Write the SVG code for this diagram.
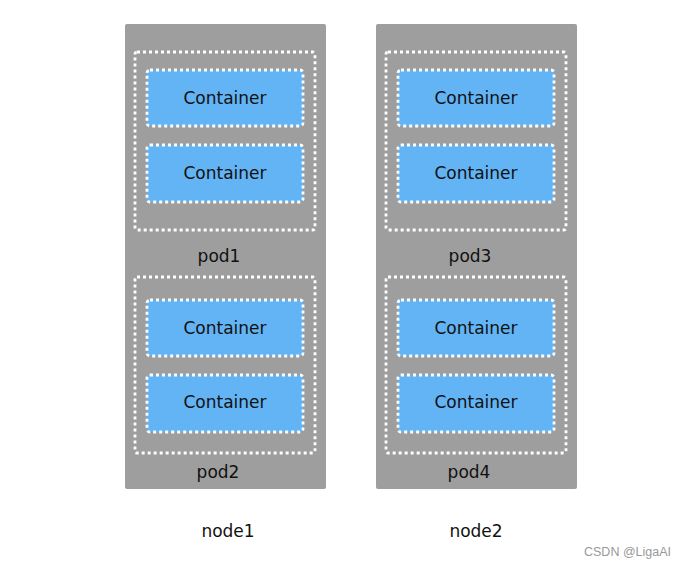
<svg xmlns="http://www.w3.org/2000/svg" width="689" height="568" viewBox="0 0 689 568">
<style>
.node{fill:#9e9e9e}
.pod{fill:none;stroke:#fff;stroke-width:2.8;stroke-dasharray:3 3}
.ctr{fill:#63b4f5;stroke:#fff;stroke-width:2.8;stroke-dasharray:3 3}
.t{font-family:"Comic Sans MS","DejaVu Sans","Noto Sans",sans-serif;font-size:17px;fill:#111;text-anchor:middle}
.w{font-family:"Liberation Sans",Arial,sans-serif;font-size:12.5px;fill:#999}
</style>
<rect width="689" height="568" fill="#fff"/>
<g id="node1">
<rect class="node" x="125" y="24" width="201" height="465" rx="2"/>
<text class="t" x="228" y="537">node1</text>
</g>
<g id="node2">
<rect class="node" x="376" y="24" width="201" height="465" rx="2"/>
<text class="t" x="476" y="537">node2</text>
</g>
<g id="pod1">
<rect class="pod" x="135" y="52" width="180" height="178" rx="2"/>
<text class="t" x="219" y="262">pod1</text>
</g>
<g id="pod2">
<rect class="pod" x="135" y="277" width="180" height="176" rx="2"/>
<text class="t" x="218" y="478">pod2</text>
</g>
<g id="pod3">
<rect class="pod" x="386" y="52" width="180" height="178" rx="2"/>
<text class="t" x="470" y="262">pod3</text>
</g>
<g id="pod4">
<rect class="pod" x="386" y="277" width="180" height="176" rx="2"/>
<text class="t" x="469" y="478">pod4</text>
</g>
<g id="c1"><rect class="ctr" x="147" y="70" width="156" height="56" rx="3"/><text class="t" x="225" y="104">Container</text></g>
<g id="c2"><rect class="ctr" x="147" y="145" width="156" height="57" rx="3"/><text class="t" x="225" y="179">Container</text></g>
<g id="c3"><rect class="ctr" x="147" y="300" width="156" height="56" rx="3"/><text class="t" x="225" y="334">Container</text></g>
<g id="c4"><rect class="ctr" x="147" y="375" width="156" height="57" rx="3"/><text class="t" x="225" y="408">Container</text></g>
<g id="c5"><rect class="ctr" x="398" y="70" width="156" height="56" rx="3"/><text class="t" x="476" y="104">Container</text></g>
<g id="c6"><rect class="ctr" x="398" y="145" width="156" height="57" rx="3"/><text class="t" x="476" y="179">Container</text></g>
<g id="c7"><rect class="ctr" x="398" y="300" width="156" height="56" rx="3"/><text class="t" x="476" y="334">Container</text></g>
<g id="c8"><rect class="ctr" x="398" y="375" width="156" height="57" rx="3"/><text class="t" x="476" y="408">Container</text></g>
<g id="connectors"></g>
<text class="w" x="584" y="556">CSDN @LigaAI</text>
</svg>
